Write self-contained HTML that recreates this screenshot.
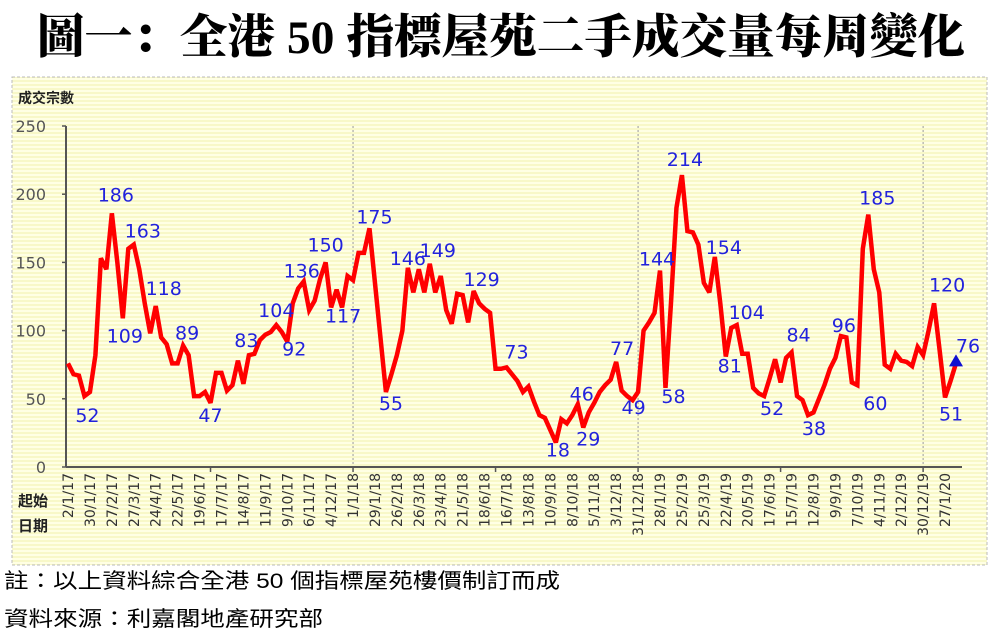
<!DOCTYPE html>
<html><head><meta charset="utf-8"><style>
html,body{margin:0;padding:0;background:#fff;width:1004px;height:639px;overflow:hidden}
svg{display:block}
</style></head><body>
<svg id="chart" width="1004" height="639" viewBox="0 0 1004 639" xmlns="http://www.w3.org/2000/svg">
<defs>
<pattern id="stripes" width="4" height="4" patternUnits="userSpaceOnUse">
<rect width="4" height="4" fill="#ffffe4"/><rect width="4" height="2" fill="#f8f8c8"/>
</pattern>
</defs>
<text x="37" y="53" textLength="928" lengthAdjust="spacingAndGlyphs" font-family="'Liberation Serif','Noto Serif CJK SC',serif" font-weight="900" font-size="47" fill="#000">圖一：全港 50 指標屋苑二手成交量每周變化</text>
<rect x="12" y="77" width="975" height="488" fill="url(#stripes)" stroke="#bbb" stroke-dasharray="3,2"/>
<text x="18" y="103" font-family="'Liberation Sans','Noto Sans CJK TC',sans-serif" font-weight="bold" font-size="14" fill="#222">成交宗數</text>
<text x="18" y="506" font-family="'Liberation Sans','Noto Sans CJK TC',sans-serif" font-weight="bold" font-size="15" fill="#222">起始</text>
<text x="18" y="531" font-family="'Liberation Sans','Noto Sans CJK TC',sans-serif" font-weight="bold" font-size="15" fill="#222">日期</text>
<g id="axes"></g>
<g id="series"></g>
<g id="labels"></g>
<text x="4" y="588" textLength="556" lengthAdjust="spacingAndGlyphs" font-family="'Liberation Sans','Noto Sans CJK TC',sans-serif" font-size="21" fill="#000">註：以上資料綜合全港 50 個指標屋苑樓價制訂而成</text>
<text x="4" y="626" textLength="319" lengthAdjust="spacingAndGlyphs" font-family="'Liberation Sans','Noto Sans CJK TC',sans-serif" font-size="21" fill="#000">資料來源：利嘉閣地產研究部</text>
</svg>
<script>
const values = [76,68,67,52,55,82,153,145,186,150,109,160,163,145,120,98,118,95,90,76,76,89,82,52,52,55,47,69,69,56,60,78,61,82,83,93,97,99,104,99,92,120,131,136,115,122,138,150,117,130,117,140,137,157,157,175,135,95,55,68,82,100,146,128,145,128,149,128,140,115,105,127,126,106,129,120,116,113,72,72,73,68,63,55,59,48,38,36,27,18,35,32,38,46,29,40,47,55,60,64,77,56,52,49,55,100,106,113,144,58,120,190,214,173,172,163,135,128,154,120,81,102,104,83,83,58,54,52,65,79,62,80,84,52,49,38,40,50,60,72,80,96,95,62,60,160,185,145,128,75,72,83,78,77,74,88,82,100,120,86,51,63,76];
const dateLabels = ["2/1/17","30/1/17","27/2/17","27/3/17","24/4/17","22/5/17","19/6/17","17/7/17","14/8/17","11/9/17","9/10/17","6/11/17","4/12/17","1/1/18","29/1/18","26/2/18","26/3/18","23/4/18","21/5/18","18/6/18","16/7/18","13/8/18","10/9/18","8/10/18","5/11/18","3/12/18","31/12/18","28/1/19","25/2/19","25/3/19","22/4/19","20/5/19","17/6/19","15/7/19","12/8/19","9/9/19","7/10/19","4/11/19","2/12/19","30/12/19","27/1/20"];
const yTicks = [0,50,100,150,200,250];
const yearStartWeeks = [52,104,156];
const labelIdx = [3,8,12,10,16,21,26,34,38,40,43,47,50,55,62,66,74,58,80,89,93,94,100,103,108,109,112,118,122,120,127,132,135,141,144,146,158,160,162];
const labelDx = [3,4,9,2,8,4,0,-8,0,7,-2,0,1,5,0,8,8,5,10,2,4,5,6,1,-3,8,3,9,10,4,8,7,6,3,18,9,13,6,12];
const labelDy = [19,-19,-14,17,-18,-13,12,-14,-15,7,-11,-18,8,-12,-10,-14,-12,11,-16,7,-11,11,-14,7,-12,8,-16,-10,-13,9,12,-18,13,-11,18,-17,-19,16,-18];

const X0=68, X1=956, Y0=467, Y1=126;
const xS = i => X0 + i*(X1-X0)/(values.length-1);
const yS = v => Y0 - v*(Y0-Y1)/250;
const NS="http://www.w3.org/2000/svg";
function mk(tag, attrs, parent){const e=document.createElementNS(NS,tag);for(const k in attrs)e.setAttribute(k,attrs[k]);parent.appendChild(e);return e;}
const axes=document.getElementById('axes');
yearStartWeeks.forEach(w=>{
  const l=mk('line',{x1:xS(w),x2:xS(w),y1:Y1,y2:Y0,stroke:'#999','stroke-dasharray':'2,2','stroke-width':1},axes);
  
  
});
const ya=mk('line',{x1:66,x2:66,y1:Y1,y2:Y0,stroke:'#555','stroke-width':2},axes);


const xa=mk('line',{x1:66,x2:962,y1:Y0,y2:Y0,stroke:'#555','stroke-width':2},axes);


yTicks.forEach(t=>{
  mk('line',{x1:62,x2:66,y1:yS(t),y2:yS(t),stroke:'#555','stroke-width':1.5},axes);
  const tx=mk('text',{x:46,y:yS(t)+6,'text-anchor':'end','font-family':'DejaVu Sans, sans-serif','font-size':16,fill:'#555'},axes);
  tx.textContent=t;
  
  
});
[26,52,78,104,130,156].forEach(w=>mk('line',{x1:xS(w),x2:xS(w),y1:Y0,y2:Y0+5,stroke:'#555','stroke-width':1.5},axes));
dateLabels.forEach((d,k)=>{
  const x=xS(k*4)+5, y=473;
  const tx=mk('text',{x:x,y:y,transform:`rotate(-90 ${x} ${y})`,'text-anchor':'end','font-family':'DejaVu Sans, sans-serif','font-size':14,fill:'#333'},axes);
  tx.textContent=d;
  
  
});
const series=document.getElementById('series');
const pl=mk('polyline',{points:values.map((v,i)=>xS(i)+','+yS(v)).join(' '),fill:'none',stroke:'#ff0000','stroke-width':4.5,'stroke-linejoin':'miter','stroke-miterlimit':3},series);


const li=values.length-1, lx=xS(li), ly=yS(values[li]);
const tri=mk('polygon',{points:`${lx},${ly-9} ${lx-7},${ly+3} ${lx+7},${ly+3}`,fill:'#1010d0'},series);


const labels=document.getElementById('labels');
labelIdx.forEach((i,k)=>{
  const tx=mk('text',{x:xS(i)+labelDx[k],y:yS(values[i])+labelDy[k]+7,'text-anchor':'middle','font-family':'DejaVu Sans, sans-serif','font-size':19,fill:'#2222dd'},labels);
  tx.textContent=values[i];
  
  
});
</script>
</body></html>
